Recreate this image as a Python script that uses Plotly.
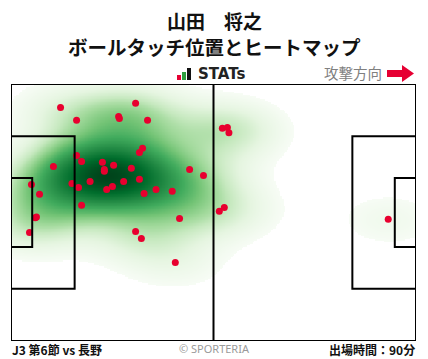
import numpy as np
import plotly.graph_objects as go

# ---- data (pitch coordinates in metres, 105 x 68, attack to the right) ----
touch_x = [12.85, 32.3, 17.0, 27.9, 28.1, 35.4, 34.1, 33.3, 17.0, 18.3,
           11.0, 23.7, 26.6, 24.2, 24.2, 31.2, 46.3, 49.9, 20.5, 15.8,
           17.5, 29.2, 33.3, 26.3, 24.8, 34.5, 37.6, 41.8, 5.3, 7.4,
           18.3, 6.6, 6.3, 43.7, 4.8, 32.3, 33.8, 42.6, 54.0, 55.3,
           54.8, 56.1, 56.5, 97.8]
touch_y = [61.8, 62.9, 58.4, 59.4, 58.9, 58.4, 51.0, 49.9, 49.1, 47.5,
           46.2, 47.3, 46.5, 45.4, 44.9, 45.7, 45.4, 43.8, 42.2, 41.7,
           40.6, 42.2, 42.8, 40.9, 40.1, 39.0, 40.1, 39.6, 41.4, 38.8,
           35.9, 32.8, 32.6, 32.4, 28.7, 29.0, 27.1, 20.8, 34.3, 35.3,
           56.3, 56.5, 55.1, 32.2]

title_lines = ["山田　将之", "ボールタッチ位置とヒートマップ"]
footer_left = "J3 第6節 vs 長野"
footer_mid = "© SPORTERIA"
footer_right = "出場時間：90分"
direction_label = "攻撃方向"

PITCH_L, PITCH_W = 105.0, 68.0
KDE_THRESH = 0.045  # lowest share of density mass left unshaded

# ---- figure geometry ----
W, H = 428, 359
ML, MR, MT, MB = 11, 12, 84, 18
PW, PH = W - ML - MR, H - MT - MB


def px(x):
    return (x - ML) / PW


def py(y):
    return (H - MB - y) / PH


# ---- Gaussian KDE (Scott's rule) with iso-proportion shading ----
pts = np.vstack([touch_x, touch_y])
n = pts.shape[1]
factor = n ** (-1.0 / 6.0)
cov = np.cov(pts) * factor ** 2
inv = np.linalg.inv(cov)
step = 0.4
ex = np.arange(-40, PITCH_L + 40 + step / 2, step)
ey = np.arange(-40, PITCH_W + 40 + step / 2, step)
GX, GY = np.meshgrid(ex, ey)
dens = np.zeros_like(GX)
for i in range(n):
    dx = GX - pts[0, i]
    dy = GY - pts[1, i]
    q = inv[0, 0] * dx * dx + 2 * inv[0, 1] * dx * dy + inv[1, 1] * dy * dy
    dens += np.exp(-0.5 * q)
flat = dens.ravel()
order = np.argsort(flat)
cum = np.cumsum(flat[order])
cum /= cum[-1]
mass = np.empty_like(flat)
mass[order] = cum
mass = mass.reshape(dens.shape)
mx = (ex >= -step) & (ex <= PITCH_L + step)
my = (ey >= -step) & (ey <= PITCH_W + step)
gx, gy = ex[mx], ey[my]
m = mass[np.ix_(my, mx)]
c = (m - KDE_THRESH) / (1 - KDE_THRESH)
t = np.where(c < 0, 0.0, 0.02 + 0.98 * c)

mpl_greens = ["#f7fcf5", "#e5f5e0", "#c7e9c0", "#a1d99b", "#74c476",
              "#41ab5d", "#238b45", "#006d2c", "#00441b"]
scale = [[0.0, "rgba(255,255,255,0)"], [0.0199, "rgba(255,255,255,0)"]]
for k, col in enumerate(mpl_greens):
    scale.append([0.02 + 0.98 * k / (len(mpl_greens) - 1), col])
scale[-1][0] = 1.0

fig = go.Figure()
fig.add_trace(go.Heatmap(
    x=gx, y=gy, z=t, zmin=0.0, zmax=1.0, colorscale=scale,
    showscale=False, zsmooth="best", hoverinfo="skip"))
fig.add_trace(go.Scatter(
    x=touch_x, y=touch_y, mode="markers",
    marker=dict(size=7, color="#e8002f", line=dict(width=0)),
    hoverinfo="skip"))

line = dict(color="black", width=2)
shapes = [
    dict(type="rect", x0=0, x1=PITCH_L, y0=0, y1=PITCH_W, line=line),
    dict(type="line", x0=PITCH_L / 2, x1=PITCH_L / 2, y0=0, y1=PITCH_W, line=line),
    dict(type="rect", x0=0, x1=16.5, y0=34 - 20.16, y1=34 + 20.16, line=line),
    dict(type="rect", x0=0, x1=5.5, y0=34 - 9.16, y1=34 + 9.16, line=line),
    dict(type="rect", x0=PITCH_L - 16.5, x1=PITCH_L, y0=34 - 20.16, y1=34 + 20.16, line=line),
    dict(type="rect", x0=PITCH_L - 5.5, x1=PITCH_L, y0=34 - 9.16, y1=34 + 9.16, line=line),
]
for s in shapes:
    s.update(xref="x", yref="y", layer="above")

# STATs icon bars
for (x0, x1, y0, col) in [(177, 181, 75, "#e60033"), (182, 186, 72, "#2e9e3e"), (187, 191, 68, "#111111")]:
    shapes.append(dict(type="rect", xref="paper", yref="paper",
                       x0=px(x0), x1=px(x1), y0=py(80), y1=py(y0),
                       fillcolor=col, line=dict(width=0), layer="above"))
# attack direction arrow
arrow = [(387, 70), (402, 70), (402, 65), (414, 73.5), (402, 82), (402, 77), (387, 77)]
path = "M " + " L ".join(f"{px(a):.5f},{py(b):.5f}" for a, b in arrow) + " Z"
shapes.append(dict(type="path", xref="paper", yref="paper", path=path,
                   fillcolor="#e60033", line=dict(width=0), layer="above"))

jp = "Noto Sans CJK JP"
ann = [
    dict(text=f"<b>{title_lines[0]}</b>", x=px(214), y=py(21), font=dict(size=19, family=jp, color="#111")),
    dict(text=f"<b>{title_lines[1]}</b>", x=px(214), y=py(46.5), font=dict(size=19.5, family=jp, color="#111")),
    dict(text="<b>STATs</b>", x=px(196), y=py(74.5), xanchor="left", font=dict(size=15, family="DejaVu Sans", color="#222")),
    dict(text=direction_label, x=px(384), y=py(73), xanchor="right", font=dict(size=14.5, family=jp, color="#808080")),
    dict(text=f"<b>{footer_left}</b>", x=px(10), y=py(349.5), xanchor="left", font=dict(size=12, family=jp, color="#111")),
    dict(text=footer_mid, x=px(214), y=py(348.5), font=dict(size=11, family="Noto Sans", color="#9a9a9a")),
    dict(text=f"<b>{footer_right}</b>", x=px(417), y=py(349.5), xanchor="right", font=dict(size=12, family=jp, color="#111")),
]
for a in ann:
    a.update(xref="paper", yref="paper", showarrow=False, yanchor="middle")
    a.setdefault("xanchor", "center")

fig.update_layout(
    width=W, height=H, margin=dict(l=ML, r=MR, t=MT, b=MB),
    paper_bgcolor="white", plot_bgcolor="white",
    xaxis=dict(range=[0, PITCH_L], visible=False, fixedrange=True),
    yaxis=dict(range=[0, PITCH_W], visible=False, fixedrange=True),
    shapes=shapes, annotations=ann, showlegend=False,
)
fig.write_html("out.html", config={"displayModeBar": False},
               post_script="document.body.style.margin='0';document.body.style.overflow='hidden';")
